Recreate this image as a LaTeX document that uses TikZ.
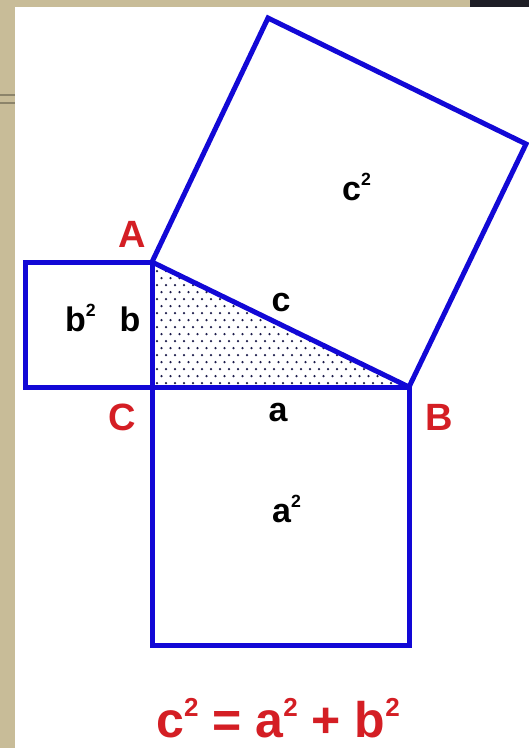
\documentclass[tikz,border=0pt]{standalone}
\usepackage{fontspec}
\setmainfont{Liberation Sans}
\usepackage{xcolor}
\usepackage{tikz}
\usetikzlibrary{calc}
\definecolor{SideBlue}{HTML}{1208D6}
\definecolor{LabelRed}{HTML}{D41E24}
\definecolor{DotNavy}{HTML}{1C1C4A}
\definecolor{FrameTan}{HTML}{C8BC98}
\definecolor{FrameDark}{HTML}{1E1E26}
\newcommand{\sq}[1]{#1\raisebox{0.42em}{\scalebox{0.52}{2}}}

\begin{document}
\begin{tikzpicture}[
  x=1pt, y=-1pt,
  side/.style={draw=SideBlue, line width=5pt},
  vx/.style={text=LabelRed, font=\fontsize{38}{40}\selectfont\bfseries, anchor=base, inner sep=0pt},
  lb/.style={text=black, font=\fontsize{34}{36}\selectfont\bfseries, anchor=base, inner sep=0pt},
]
  \useasboundingbox (0,0) rectangle (529,748);

  % Frame
  \fill[white] (0,0) rectangle (529,748);
  \fill[FrameTan] (0,0) rectangle (15,748);
  \fill[FrameTan] (0,0) rectangle (470,7);
  \fill[FrameDark] (470,0) rectangle (529,7);
  \draw[FrameTan!70!black, line width=1.2pt] (0,95) -- (15,95) (0,103) -- (15,103);

  % Vertices
  \coordinate (A) at (152,262);
  \coordinate (C) at (152,387);
  \coordinate (B) at (409,387);
  \coordinate (D) at (268,18);
  \coordinate (E) at (526,144);

  % Dotted triangle
  \begin{scope}
    \clip (A) -- (B) -- (C) -- cycle;
    \foreach \row in {0,...,18}
      \foreach \col in {0,...,29} {
        \pgfmathsetmacro{\dx}{157+9*\col+4.5*mod(\row,2)}
        \pgfmathsetmacro{\dy}{383-7*\row}
        \fill[DotNavy] (\dx,\dy) circle (1.25pt);
      }
  \end{scope}

  % Squares
  \draw[side] (25,262) rectangle (C);
  \draw[side] (C) rectangle (409,645);
  \draw[side] (A) -- (B) -- (E) -- (D) -- cycle;

  % Vertex labels
  \node[vx] (lA) at (132,247) {A};
  \node[vx] (lC) at (122,430) {C};
  \node[vx] (lB) at (439,430) {B};

  % Side labels
  \node[lb] (lc) at (281,311) {c};
  \node[lb] (la) at (278,421) {a};
  \node[lb] (lb) at (130,331) {b};

  % Area labels
  \node[lb, anchor=base west] (sb) at (65,331) {\sq{b}};
  \node[lb, anchor=base west] (sc) at (342,200) {\sq{c}};
  \node[lb, anchor=base west] (sa) at (272,522) {\sq{a}};

  % Formula
  \node[text=LabelRed, font=\fontsize{50}{54}\selectfont\bfseries, anchor=base, inner sep=0pt]
    (law) at (278,737) {\sq{c} = \sq{a} + \sq{b}};
\end{tikzpicture}
\end{document}
